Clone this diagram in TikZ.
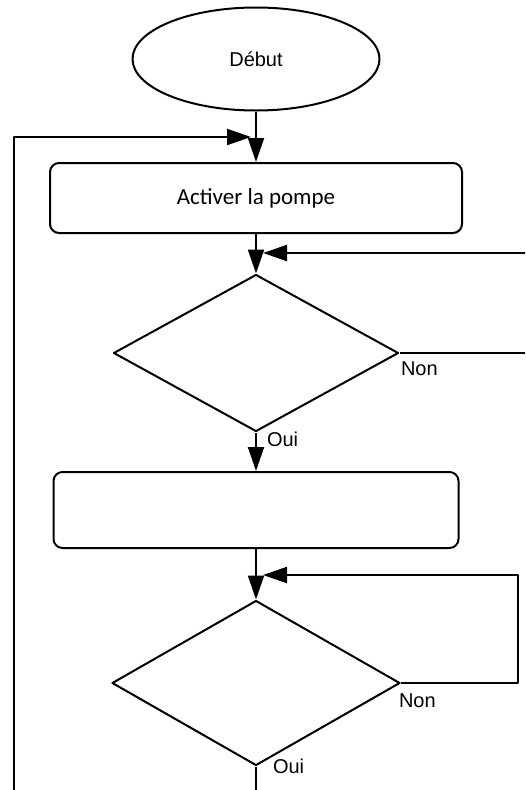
\documentclass[tikz,border=0pt]{standalone}
\usepackage{fontspec}
\setmainfont{Liberation Sans}
\newfontfamily\calibri{Carlito}
\usetikzlibrary{shapes.geometric,arrows.meta}
\begin{document}
\begin{tikzpicture}[x=1pt, y=-1pt, line width=2pt, line join=round, >={Triangle[length=24pt,width=16pt]},
	debut/.style={draw, ellipse, minimum width=247pt, minimum height=103pt, inner sep=0pt, font=\fontsize{20}{24}\selectfont},
	action/.style={draw, rounded corners=9pt, inner sep=0pt},
	test/.style={draw, diamond, inner sep=0pt},
	rep/.style={inner sep=0pt, anchor=base west, font=\fontsize{20}{24}\selectfont}]
	\useasboundingbox (0,0) rectangle (525,790);
	\clip (0,0) rectangle (525,790);
	\def\xm{256} \def\xg{14} \def\xd{518}
	\node[debut] (debut) at (\xm,59) {Début};
	\node[action, minimum width=412pt, minimum height=70pt, font=\calibri\fontsize{23}{28}\selectfont] (pompe) at (\xm,198) {Activer la pompe};
	\node[test, minimum width=285pt, minimum height=157pt] (test1) at (\xm,353) {};
	\node[action, minimum width=405pt, minimum height=76pt] (action2) at (\xm,510) {};
	\node[test, minimum width=288pt, minimum height=165pt] (test2) at (\xm,683) {};
	\coordinate (retour) at (251,137);
	\coordinate (j1) at (263,253);
	\coordinate (j2) at (263,575);
	\draw[->] (debut) -- (pompe);
	\draw[->] (pompe) -- (test1);
	\draw[->] (test1) -- (action2);
	\draw[->] (action2) -- (test2);
	\draw[->] (test1.east) -- (545,353) |- (j1);
	\draw[->] (test2.east) -- (\xd,683) |- (j2);
	\draw[->] (test2.south) -- (\xm,805) -| (\xg,137) -- (retour);
	\node[rep] (non1) at (400,375) {Non};
	\node[rep] (oui1) at (266,446) {Oui};
	\node[rep] (non2) at (398,707) {Non};
	\node[rep] (oui2) at (272,773) {Oui};
\end{tikzpicture}
\end{document}
